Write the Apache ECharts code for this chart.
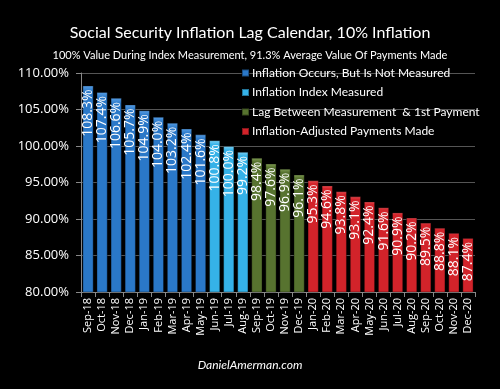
<!DOCTYPE html>
<html><head><meta charset="utf-8">
<script src="https://cdn.jsdelivr.net/npm/echarts@6/dist/echarts.min.js"></script>
<style>html,body{margin:0;padding:0;background:#000;}#c{width:500px;height:389px;}</style>
</head><body><div id="c"></div>
<script>
const categories = ["Sep-18","Oct-18","Nov-18","Dec-18","Jan-19","Feb-19","Mar-19","Apr-19","May-19","Jun-19","Jul-19","Aug-19","Sep-19","Oct-19","Nov-19","Dec-19","Jan-20","Feb-20","Mar-20","Apr-20","May-20","Jun-20","Jul-20","Aug-20","Sep-20","Oct-20","Nov-20","Dec-20"];
const notMeasured = [108.3,107.4,106.6,105.7,104.9,104.0,103.2,102.4,101.6,null,null,null,null,null,null,null,null,null,null,null,null,null,null,null,null,null,null,null];
const measured = [null,null,null,null,null,null,null,null,null,100.8,100.0,99.2,null,null,null,null,null,null,null,null,null,null,null,null,null,null,null,null];
const lag = [null,null,null,null,null,null,null,null,null,null,null,null,98.4,97.6,96.9,96.1,null,null,null,null,null,null,null,null,null,null,null,null];
const payments = [null,null,null,null,null,null,null,null,null,null,null,null,null,null,null,null,95.3,94.6,93.8,93.1,92.4,91.6,90.9,90.2,89.5,88.8,88.1,87.4];
const seriesNames = ["Inflation Occurs, But Is Not Measured","Inflation Index Measured","Lag Between Measurement  & 1st Payment","Inflation-Adjusted Payments Made"];
const yTicks = {min:80, max:110, interval:5};

const colors = ['#2a78c8','#35b2e8','#57732f','#d2232a'];
const tops = ['#5aa0e6','#7fd2f5','#86a35a','#f0555a'];
function mk(i, data){
  return {
    name: seriesNames[i], type:'bar', stack:'s', data: data, barWidth: '80%',
    itemStyle:{
      color:{type:'linear',x:0,y:0,x2:0,y2:1,colorStops:[{offset:0,color:tops[i]},{offset:0.03,color:colors[i]},{offset:1,color:colors[i]}]},
      borderColor:'rgba(0,0,0,0.35)', borderWidth:1
    },
    label:{show:true, position:'insideTop', rotate:90, align:'right', verticalAlign:'middle', distance:4,
      color:'#fff', fontSize:14, fontFamily:'Open Sans',
      formatter: p => p.value.toFixed(1)+'%'}
  };
}
const chart = echarts.init(document.getElementById('c'));
chart.setOption({
  backgroundColor:'#000',
  animation:false,
  title:[
    {text:'Social Security Inflation Lag Calendar, 10% Inflation', left:'center', top:20,
     textStyle:{color:'#fff', fontSize:16, fontWeight:'normal', fontFamily:'Lato'}},
    {text:'100% Value During Index Measurement, 91.3% Average Value Of Payments Made', left:'center', top:45,
     textStyle:{color:'#fff', fontSize:11, fontWeight:'normal', fontFamily:'Lato'}},
    {text:'DanielAmerman.com', left:'center', top:354,
     textStyle:{color:'#fff', fontSize:12, fontWeight:'normal', fontStyle:'italic', fontFamily:'Lato'}}
  ],
  legend:{
    orient:'vertical', left:236, top:62, itemWidth:7, itemHeight:7, itemGap:7.5,
    icon:'rect',
    textStyle:{color:'#fff', fontSize:12, fontFamily:'Lato', padding:[0,0,0,-2]},
    data: seriesNames
  },
  grid:{left:81, right:25, top:73, bottom:97},
  xAxis:{
    type:'category', data:categories,
    axisLine:{lineStyle:{color:'#888'}},
    axisTick:{show:true, lineStyle:{color:'#888'}},
    axisLabel:{rotate:90, color:'#fff', fontSize:11, fontFamily:'Open Sans', interval:0, margin:6}
  },
  yAxis:{
    type:'value', min:yTicks.min, max:yTicks.max, interval:yTicks.interval,
    axisLine:{show:true, lineStyle:{color:'#888'}},
    axisTick:{show:true, inside:false, length:5, lineStyle:{color:'#888'}},
    splitLine:{lineStyle:{color:'#555'}},
    axisLabel:{color:'#fff', fontSize:13, fontFamily:'Open Sans', margin:12, formatter: v => v.toFixed(2)+'%'}
  },
  series:[mk(0,notMeasured), mk(1,measured), mk(2,lag), mk(3,payments)]
});
</script></body></html>
